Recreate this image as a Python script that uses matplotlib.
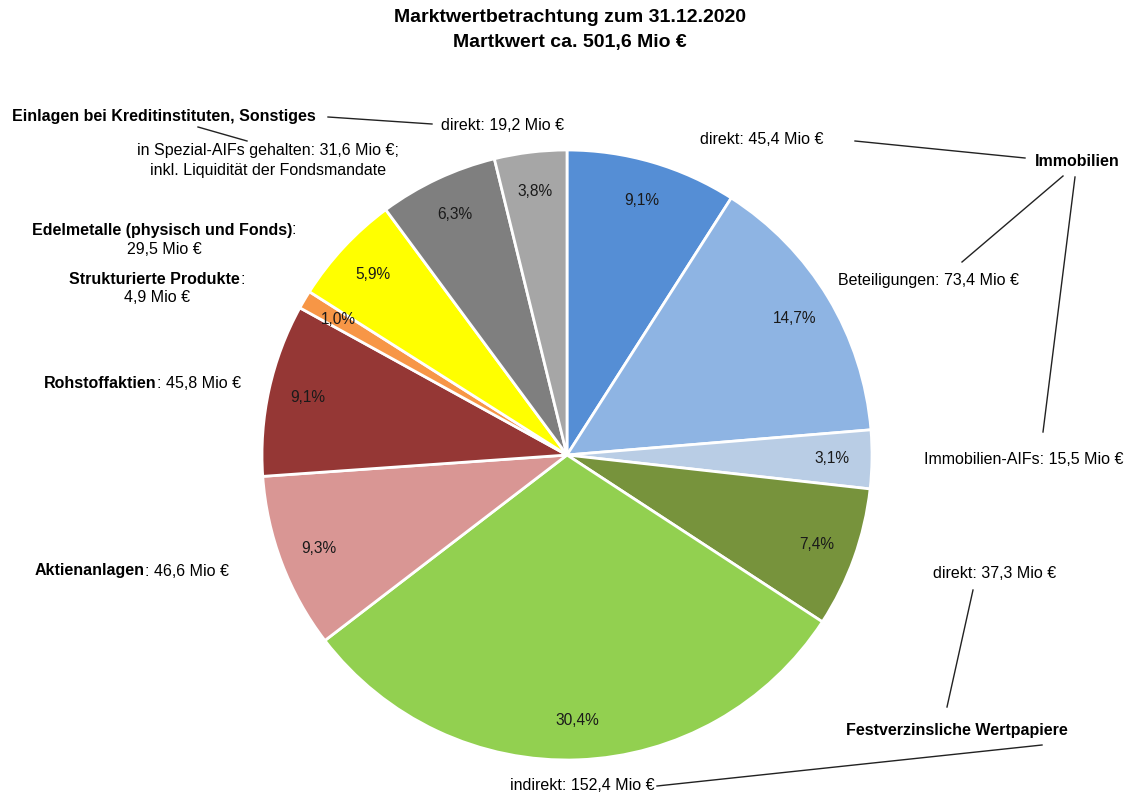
import matplotlib.pyplot as plt

plt.rcParams['font.family'] = ['Liberation Sans', 'DejaVu Sans']

# Daten (Mio €), im Uhrzeigersinn ab 12 Uhr
kategorien = ["Immobilien direkt", "Beteiligungen", "Immobilien-AIFs",
              "Festverzinsliche direkt", "Festverzinsliche indirekt",
              "Aktienanlagen", "Rohstoffaktien", "Strukturierte Produkte",
              "Edelmetalle", "Spezial-AIFs", "Einlagen direkt"]
werte = [45.4, 73.4, 15.5, 37.3, 152.4, 46.6, 45.8, 4.9, 29.5, 31.6, 19.2]
prozent_labels = ["9,1%", "14,7%", "3,1%", "7,4%", "30,4%", "9,3%",
                  "9,1%", "1,0%", "5,9%", "6,3%", "3,8%"]
farben = ["#558ED5", "#8EB4E3", "#B9CDE5", "#77933C", "#92D050", "#D99694",
          "#953735", "#F79646", "#FFFF00", "#7F7F7F", "#A6A6A6"]

B, H = 1132, 794
FS = 11.5


def Y(y):
    # Bildkoordinate (von oben) -> Achsenkoordinate
    return H - y


fig = plt.figure(figsize=(B / 100, H / 100), dpi=100)
ax = fig.add_axes([0, 0, 1, 1])

labels_iter = iter(prozent_labels)
ax.pie(werte, colors=farben, startangle=90, counterclock=False,
       center=(567, Y(455)), radius=305,
       autopct=lambda p: next(labels_iter), pctdistance=0.87,
       wedgeprops=dict(edgecolor='white', linewidth=2),
       textprops=dict(fontsize=11.2, color='#1a1a1a'))

ax.set_xlim(0, B)
ax.set_ylim(0, H)
ax.set_aspect('equal')
ax.axis('off')

r = fig.canvas.get_renderer()


def zweiteilig(x, y, fett, normal, ha='left'):
    """Fetter Teil gefolgt von normalem Teil auf einer Zeile."""
    a = ax.text(0, Y(y), fett, weight='bold', va='center', size=FS)
    b = ax.text(0, Y(y), normal, va='center', size=FS)
    wa = a.get_window_extent(r).width
    wb = b.get_window_extent(r).width
    if ha == 'center':
        x = x - (wa + wb) / 2
    elif ha == 'right':
        x = x - (wa + wb)
    a.set_x(x)
    b.set_x(x + wa)


def text(x, y, s, ha='left', fett=False):
    ax.text(x, Y(y), s, ha=ha, va='center', size=FS,
            weight='bold' if fett else 'normal')


def linie(x1, y1, x2, y2):
    ax.plot([x1, x2], [Y(y1), Y(y2)], color='#222222', lw=1)


# Titel
ax.text(570, Y(18), "Marktwertbetrachtung zum 31.12.2020", ha='center',
        va='center', size=14, weight='bold')
ax.text(570, Y(43), "Martkwert ca. 501,6 Mio €", ha='center',
        va='center', size=14, weight='bold')

# Linke Seite
text(12, 116, "Einlagen bei Kreditinstituten, Sonstiges", fett=True)
linie(328, 117, 432, 124)
linie(198, 127, 247, 141)
text(441, 126, "direkt: 19,2 Mio €")
text(268, 151, "in Spezial-AIFs gehalten: 31,6 Mio €;", ha='center')
text(268, 171, "inkl. Liquidität der Fondsmandate", ha='center')

zweiteilig(164, 230, "Edelmetalle (physisch und Fonds)", ":", ha='center')
text(164, 249, "29,5 Mio €", ha='center')
zweiteilig(157, 279, "Strukturierte Produkte", ":", ha='center')
text(157, 298, "4,9 Mio €", ha='center')

zweiteilig(44, 384, "Rohstoffaktien", ": 45,8 Mio €")
zweiteilig(35, 571, "Aktienanlagen", ": 46,6 Mio €")

# Rechte Seite
text(700, 139, "direkt: 45,4 Mio €")
linie(855, 141, 1025, 158)
text(1077, 161, "Immobilien", ha='center', fett=True)
linie(1063, 176, 962, 262)
linie(1075, 177, 1043, 432)
text(928, 281, "Beteiligungen: 73,4 Mio €", ha='center')
text(1024, 460, "Immobilien-AIFs: 15,5 Mio €", ha='center')

text(995, 574, "direkt: 37,3 Mio €", ha='center')
linie(973, 590, 947, 707)
text(957, 730, "Festverzinsliche Wertpapiere", ha='center', fett=True)
linie(1042, 745, 657, 786)
text(510, 786, "indirekt: 152,4 Mio €")

fig.savefig("out.png", dpi=100, facecolor='white')
